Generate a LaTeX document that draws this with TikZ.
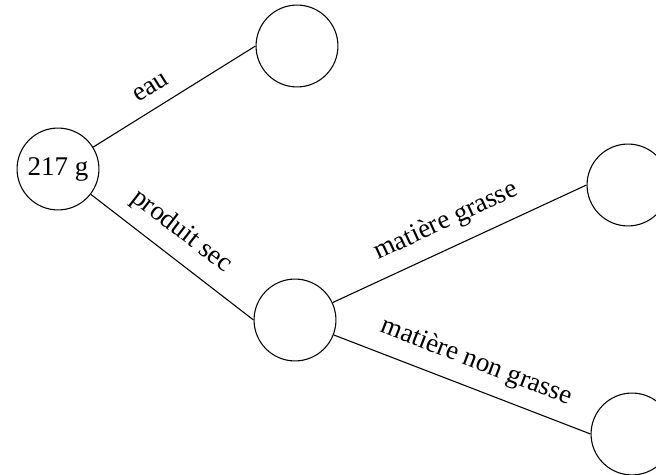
\documentclass[tikz,border=0pt]{standalone}
\usepackage{fontspec}
\setmainfont{Liberation Serif}
\begin{document}
\begin{tikzpicture}[x=0.37pt,y=-0.37pt,
  state/.style={circle,draw,line width=0.4pt,minimum size=30.3pt,inner sep=0pt,font=\fontsize{10}{12}\selectfont},
  lab/.style={sloped,above=1.5pt,inner sep=3.33pt,font=\fontsize{10}{12}\selectfont},
  edge/.style={draw,line width=0.4pt}]
\useasboundingbox (0,0) rectangle (656,475);
\node[state] (root) at (58,169) {217 g};
\node[state] (top) at (297,46) {};
\node[state] (mid) at (295,320) {};
\node[state] (rt) at (628,185) {};
\node[state] (rb) at (632,434) {};
\path[edge] (root) -- (top.west) node[lab,pos=0.42] (l1) {eau};
\path[edge] (root) -- (mid.west) node[lab,pos=0.46] (l2) {produit sec};
\path[edge] (mid) -- (rt.west) node[lab,pos=0.49] (l3) {matière grasse};
\path[edge] (mid) -- (rb.west) node[lab,pos=0.52] (l4) {matière non grasse};
\end{tikzpicture}
\end{document}
